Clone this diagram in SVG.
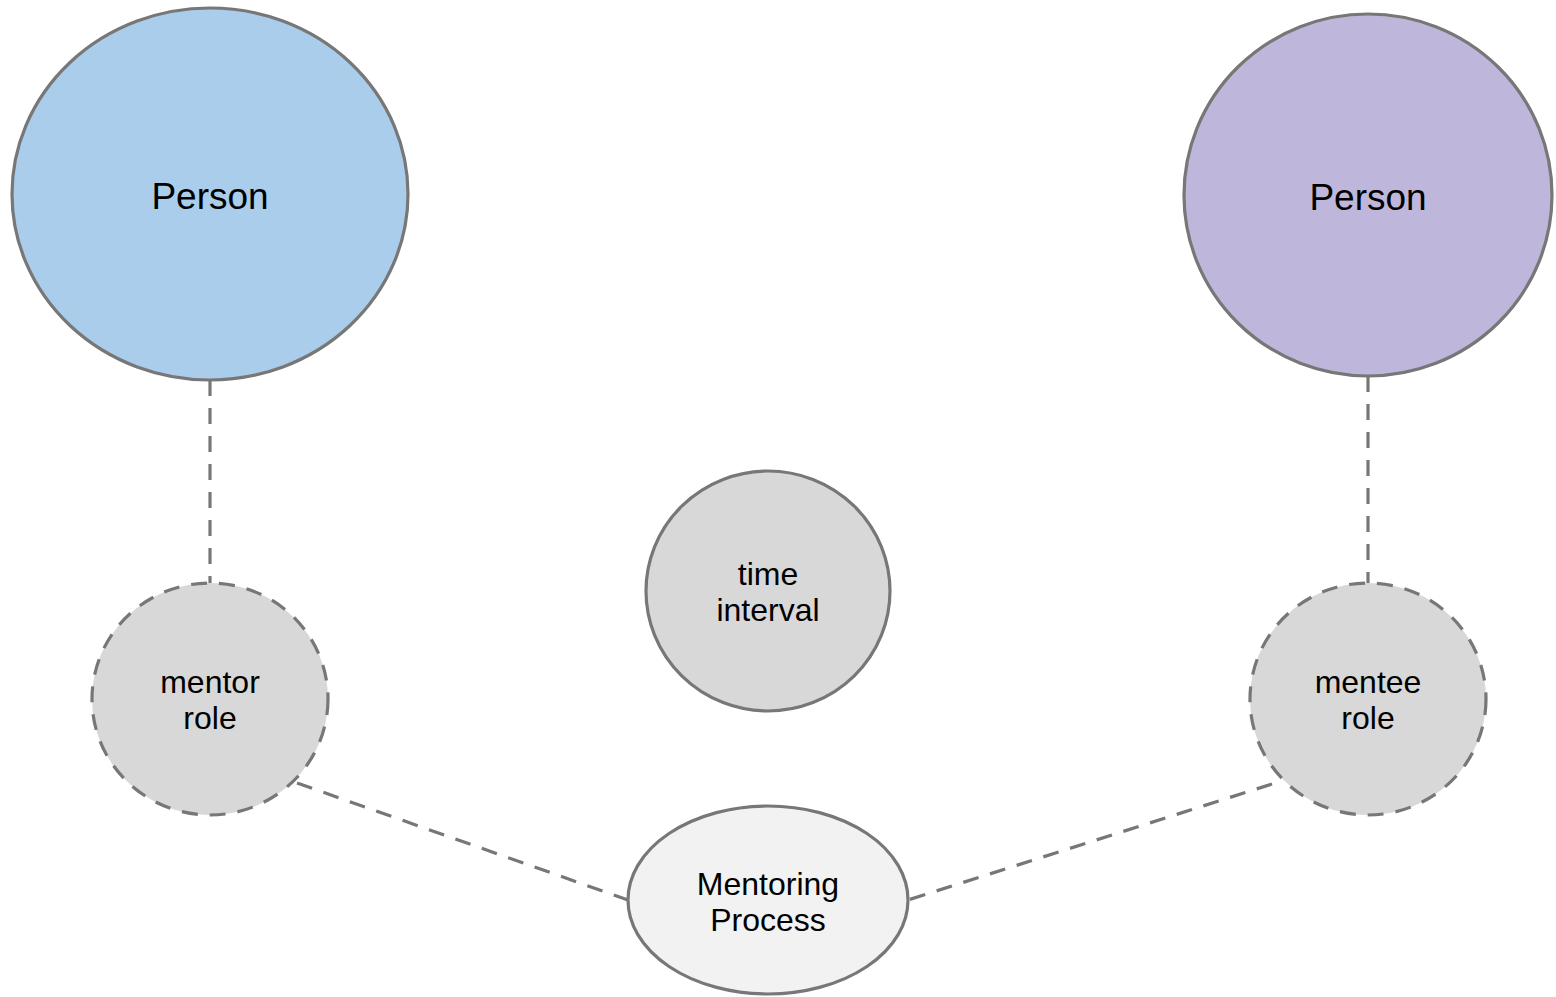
<svg xmlns="http://www.w3.org/2000/svg" width="1556" height="997" viewBox="0 0 1556 997">
<style>
.n{stroke:#777777;stroke-width:3.2}
.d{stroke-dasharray:16 12}
.c{stroke:#777777;stroke-width:3.2;fill:none;stroke-dasharray:16 12}
text{font-family:"Liberation Sans",Arial,sans-serif;fill:#000;text-anchor:middle}
.big{font-size:37px}
.sm{font-size:32px}
</style>
<rect width="1556" height="997" fill="#ffffff"/>
<g id="connectors">
<line class="c" x1="210" y1="380" x2="210" y2="583"/>
<line class="c" x1="1368" y1="376" x2="1368" y2="583"/>
<line class="c" x1="297" y1="783" x2="628" y2="900"/>
<line class="c" x1="1272" y1="784" x2="908" y2="900"/>
</g>
<g id="person-mentor">
<ellipse class="n" cx="210" cy="194" rx="198" ry="186" fill="#abcdec"/>
<text class="big" x="210" y="209">Person</text>
</g>
<g id="person-mentee">
<ellipse class="n" cx="1368" cy="195" rx="184" ry="181" fill="#bfb7db"/>
<text class="big" x="1368" y="210">Person</text>
</g>
<g id="mentor-role">
<ellipse class="n d" cx="210" cy="699" rx="118" ry="116" fill="#d8d8d8"/>
<text class="sm" x="210" y="693">mentor</text>
<text class="sm" x="210" y="729">role</text>
</g>
<g id="mentee-role">
<ellipse class="n d" cx="1368" cy="699" rx="118" ry="116" fill="#d8d8d8"/>
<text class="sm" x="1368" y="693">mentee</text>
<text class="sm" x="1368" y="729">role</text>
</g>
<g id="time-interval">
<ellipse class="n" cx="768" cy="591" rx="122" ry="120" fill="#d8d8d8"/>
<text class="sm" x="768" y="585">time</text>
<text class="sm" x="768" y="621">interval</text>
</g>
<g id="mentoring-process">
<ellipse class="n" cx="768" cy="900" rx="140" ry="94" fill="#f2f2f2"/>
<text class="sm" x="768" y="895">Mentoring</text>
<text class="sm" x="768" y="931">Process</text>
</g>
</svg>
